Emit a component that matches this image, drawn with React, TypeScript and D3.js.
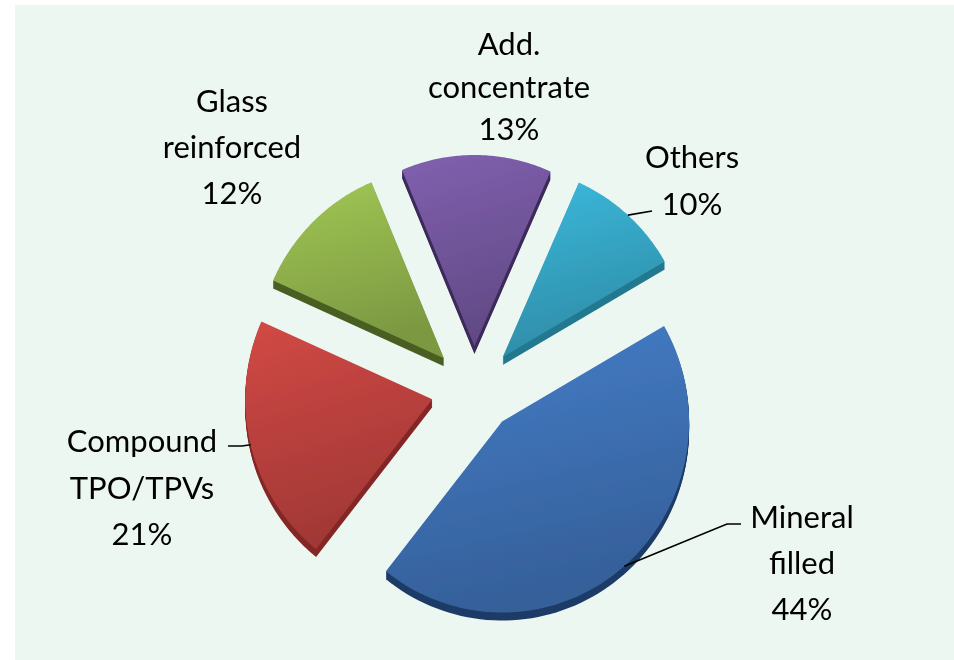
import React from "react";
import * as d3 from "d3";

// ---- data ----
const categories = ["Mineral filled", "Compound TPO/TPVs", "Glass reinforced", "Add. concentrate", "Others"];
const values = [44, 21, 12, 13, 10];

// ---- styles ----
const colors = ["#3f73b8", "#c0433f", "#93b64e", "#7558a0", "#37a9c9"];
const sideColors = ["#1e3b66", "#842826", "#4a5f22", "#3c2a5a", "#22798f"];

// ---- layout ----
const W = 954;
const H = 660;
const CX = 474;
const CY = 389;
const RX = 187;
const RY = 191;
const EXPLODE = 43;
const DEPTH = 8;
const START = (60 * Math.PI) / 180;

const labelLayout: { x: number; y: number; dy: number; leader: [number, number][] | null }[] = [
  { x: 802, y: 528, dy: 46, leader: [[727, 524], [741, 524]] },
  { x: 142, y: 452, dy: 46.5, leader: [[242, 446], [228, 446]] },
  { x: 232, y: 112, dy: 46, leader: null },
  { x: 509, y: 55, dy: 42.5, leader: null },
  { x: 692, y: 168, dy: 47, leader: [[652, 211]] },
];

function labelLines(cat: string, v: number): string[] {
  const parts = cat.split(" ");
  return [...parts, `${v}%`];
}

export default function App() {
  const pie = d3
    .pie<number>()
    .sort(null)
    .startAngle(START)
    .endAngle(START + 2 * Math.PI);
  const arcs = pie(values);
  const line = d3.line().curve(d3.curveLinearClosed);

  const slices = arcs.map((a, i) => {
    const mid = (a.startAngle + a.endAngle) / 2;
    const ox = CX + EXPLODE * Math.sin(mid);
    const oy = CY - EXPLODE * Math.cos(mid);
    const pts: [number, number][] = [[ox, oy]];
    const n = 80;
    for (let k = 0; k <= n; k++) {
      const t = a.startAngle + ((a.endAngle - a.startAngle) * k) / n;
      pts.push([ox + RX * Math.sin(t), oy - RY * Math.cos(t)]);
    }
    const anchor: [number, number] = [ox + RX * Math.sin(mid), oy - RY * Math.cos(mid)];
    return { d: line(pts) as string, anchor, i };
  });

  const depthSteps = d3.range(1, DEPTH + 1);

  return (
    <svg width={W} height={H} style={{ display: "block", position: "absolute", left: 0, top: 0 }}>
      <defs>
        {colors.map((c, i) => {
          const top = d3.color(c)!.brighter(0.25).formatHex();
          const bot = d3.color(c)!.darker(0.5).formatHex();
          return (
            <linearGradient key={i} id={`g${i}`} x1="0" y1="0" x2="0.25" y2="1">
              <stop offset="0" stopColor={top} />
              <stop offset="1" stopColor={bot} />
            </linearGradient>
          );
        })}
        <filter id="soft" x="-10%" y="-10%" width="120%" height="120%">
          <feGaussianBlur stdDeviation="0.6" />
        </filter>
      </defs>
      <rect x={15} y={5} width={W - 15} height={H - 5} fill="#edf7f2" />
      <g filter="url(#soft)">
        {slices.map((s) => (
          <g key={s.i}>
            {depthSteps.map((k) => (
              <path key={k} d={s.d} transform={`translate(0,${k})`} fill={sideColors[s.i]} />
            ))}
            <path d={s.d} fill={`url(#g${s.i})`} />
          </g>
        ))}
      </g>
      {slices.map((s) => {
        const L = labelLayout[s.i];
        if (!L.leader) return null;
        const pts = [s.anchor, ...L.leader];
        return (
          <path
            key={`l${s.i}`}
            d={d3.line()(pts) as string}
            fill="none"
            stroke="#000"
            strokeWidth={1.6}
          />
        );
      })}
      {categories.map((c, i) => {
        const L = labelLayout[i];
        const lines = labelLines(c, values[i]);
        return (
          <text
            key={`t${i}`}
            x={L.x}
            y={L.y}
            textAnchor="middle"
            fontFamily="Lato, 'Open Sans', sans-serif"
            fontSize={31}
            fill="#000"
          >
            {lines.map((ln, j) => (
              <tspan key={j} x={L.x} y={L.y + j * L.dy}>
                {ln}
              </tspan>
            ))}
          </text>
        );
      })}
    </svg>
  );
}
